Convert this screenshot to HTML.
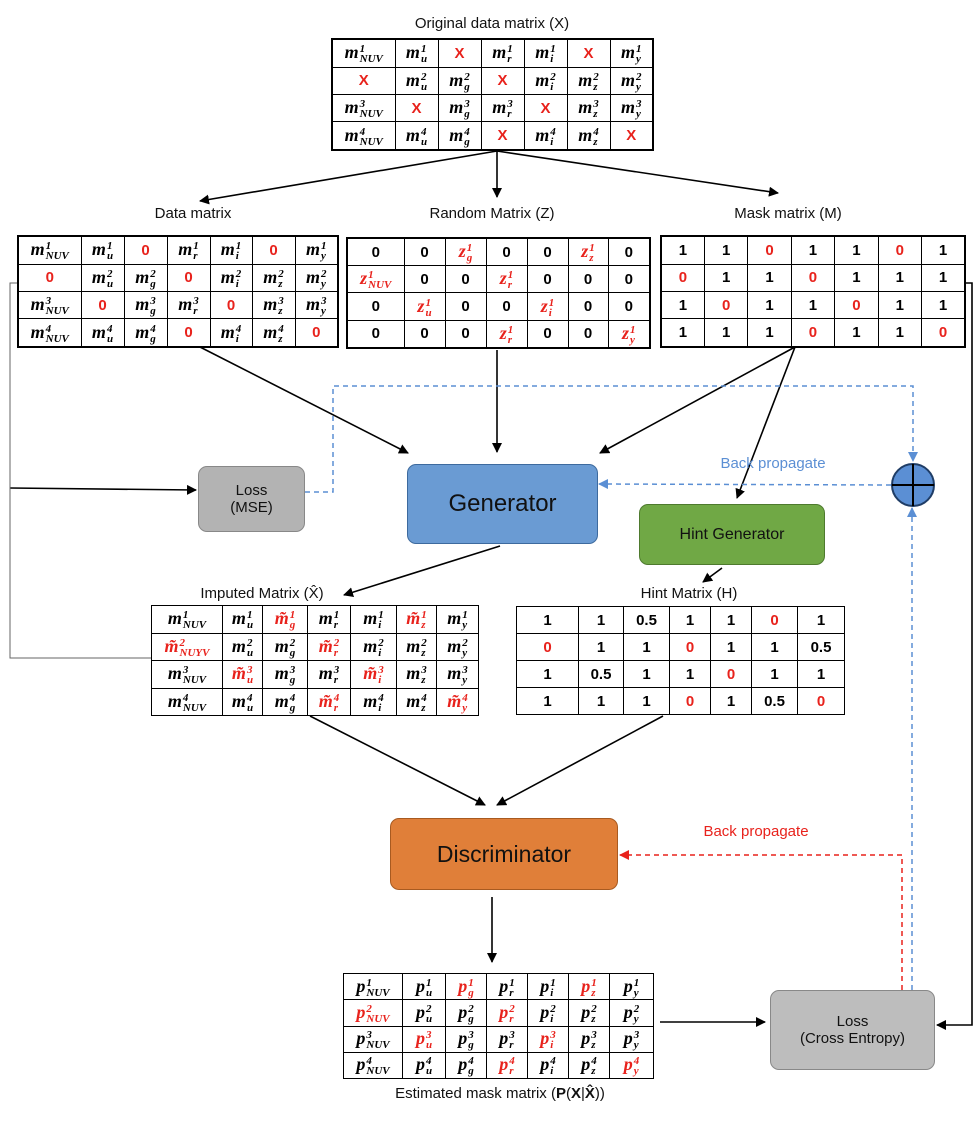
<!DOCTYPE html>
<html><head><meta charset="utf-8"><style>
body{margin:0;background:#fff;width:977px;height:1127px;position:relative;overflow:hidden;font-family:"Liberation Sans","DejaVu Sans",sans-serif}
table{position:absolute;border-collapse:collapse;table-layout:fixed;border:2px solid #000}
td{border:1.5px solid #000;text-align:center;padding:0;font:italic bold 18px "Liberation Serif",serif;white-space:nowrap;overflow:hidden}
td.n{font:bold 15px "Liberation Sans",sans-serif}
.r{color:#e8221c}
.s{display:inline-block;vertical-align:middle;line-height:10px;font-size:11px;text-align:left;margin-left:1px}
.s b{display:block}
.lbl{position:absolute;font-size:15px;color:#111;white-space:nowrap;transform:translateX(-50%)}
.box{position:absolute;border-radius:9px;display:flex;align-items:center;justify-content:center;text-align:center;color:#111;box-sizing:border-box}
</style></head><body>
<svg width="977" height="1127" style="position:absolute;left:0;top:0">
<defs>
<marker id="a" markerWidth="10" markerHeight="10" refX="9" refY="5" orient="auto" markerUnits="userSpaceOnUse"><path d="M0,0 L10,5 L0,10 z" fill="#000"/></marker>
<marker id="b" markerWidth="10" markerHeight="10" refX="9" refY="5" orient="auto" markerUnits="userSpaceOnUse"><path d="M0,0 L10,5 L0,10 z" fill="#5b8fd4"/></marker>
<marker id="c" markerWidth="10" markerHeight="10" refX="9" refY="5" orient="auto" markerUnits="userSpaceOnUse"><path d="M0,0 L10,5 L0,10 z" fill="#e8221c"/></marker>
</defs>
<g stroke="#000" stroke-width="1.6" fill="none">
<line x1="497" y1="151" x2="200" y2="201" marker-end="url(#a)"/>
<line x1="497" y1="151" x2="497" y2="197" marker-end="url(#a)"/>
<line x1="497" y1="151" x2="778" y2="193" marker-end="url(#a)"/>
<line x1="200" y1="347" x2="408" y2="453" marker-end="url(#a)"/>
<line x1="497" y1="350" x2="497" y2="452" marker-end="url(#a)"/>
<line x1="795" y1="347" x2="600" y2="453" marker-end="url(#a)"/>
<line x1="795" y1="347" x2="737" y2="498" marker-end="url(#a)"/>
<line x1="10" y1="488" x2="196" y2="490" marker-end="url(#a)"/>
<polyline points="965,283 972,283 972,1025 937,1025" marker-end="url(#a)"/>
<line x1="500" y1="546" x2="344" y2="595" marker-end="url(#a)"/>
<line x1="722" y1="568" x2="703" y2="582" marker-end="url(#a)"/>
<line x1="310" y1="716" x2="485" y2="805" marker-end="url(#a)"/>
<line x1="663" y1="716" x2="497" y2="805" marker-end="url(#a)"/>
<line x1="492" y1="897" x2="492" y2="962" marker-end="url(#a)"/>
<line x1="660" y1="1022" x2="765" y2="1022" marker-end="url(#a)"/>
</g>
<polyline points="17,283 10,283 10,658 151,658" stroke="#666" stroke-width="1" fill="none"/>
<g stroke="#5b8fd4" stroke-width="1.5" fill="none" stroke-dasharray="5,4">
<polyline points="305,492 333,492 333,386 913,386 913,461" marker-end="url(#b)"/>
<line x1="891" y1="485" x2="599" y2="484" marker-end="url(#b)"/>
<line x1="912" y1="990" x2="912" y2="508" marker-end="url(#b)"/>
</g>
<polyline points="902,990 902,855 620,855" stroke="#e8221c" stroke-width="1.5" fill="none" stroke-dasharray="5,4" marker-end="url(#c)"/>
<circle cx="913" cy="485" r="21" fill="#5b8fd4" stroke="#1f3d66" stroke-width="2"/>
<line x1="892" y1="485" x2="934" y2="485" stroke="#000" stroke-width="2"/>
<line x1="913" y1="464" x2="913" y2="506" stroke="#000" stroke-width="2"/>
</svg>

<div class="lbl" style="left:492px;top:15px">Original data matrix (X)</div>
<div class="lbl" style="left:193px;top:205px">Data matrix</div>
<div class="lbl" style="left:492px;top:205px">Random Matrix (Z)</div>
<div class="lbl" style="left:788px;top:205px">Mask matrix (M)</div>
<div class="lbl" style="left:262px;top:585px">Imputed Matrix (X&#770;)</div>
<div class="lbl" style="left:689px;top:585px">Hint Matrix (H)</div>
<div class="lbl" style="left:500px;top:1085px">Estimated mask matrix (<b>P</b>(<b>X</b>|<b>X&#770;</b>))</div>
<div class="lbl" style="left:773px;top:455px;color:#5b8fd4">Back propagate</div>
<div class="lbl" style="left:756px;top:823px;color:#e8221c">Back propagate</div>

<div class="box" style="left:198px;top:466px;width:107px;height:66px;background:#b3b3b3;border:1px solid #888;font-size:15px">Loss<br>(MSE)</div>
<div class="box" style="left:407px;top:464px;width:191px;height:80px;background:#6a9bd3;border:1.5px solid #3d6a9e;font-size:24px">Generator</div>
<div class="box" style="left:639px;top:504px;width:186px;height:61px;background:#70a845;border:1.5px solid #4e7a2e;font-size:16px">Hint Generator</div>
<div class="box" style="left:390px;top:818px;width:228px;height:72px;background:#e07f39;border:1.5px solid #a85a20;font-size:23px">Discriminator</div>
<div class="box" style="left:770px;top:990px;width:165px;height:80px;background:#bdbdbd;border:1px solid #888;font-size:15px">Loss<br>(Cross Entropy)</div>

<!-- Original -->
<table style="left:331px;top:38px;width:322px;height:113px">
<colgroup><col style="width:63px"><col style="width:43px"><col style="width:43px"><col style="width:43px"><col style="width:43px"><col style="width:43px"><col style="width:43px"></colgroup>
<tr><td>m<span class="s"><b>1</b><b>NUV</b></span></td><td>m<span class="s"><b>1</b><b>u</b></span></td><td class="n r">X</td><td>m<span class="s"><b>1</b><b>r</b></span></td><td>m<span class="s"><b>1</b><b>i</b></span></td><td class="n r">X</td><td>m<span class="s"><b>1</b><b>y</b></span></td></tr>
<tr><td class="n r">X</td><td>m<span class="s"><b>2</b><b>u</b></span></td><td>m<span class="s"><b>2</b><b>g</b></span></td><td class="n r">X</td><td>m<span class="s"><b>2</b><b>i</b></span></td><td>m<span class="s"><b>2</b><b>z</b></span></td><td>m<span class="s"><b>2</b><b>y</b></span></td></tr>
<tr><td>m<span class="s"><b>3</b><b>NUV</b></span></td><td class="n r">X</td><td>m<span class="s"><b>3</b><b>g</b></span></td><td>m<span class="s"><b>3</b><b>r</b></span></td><td class="n r">X</td><td>m<span class="s"><b>3</b><b>z</b></span></td><td>m<span class="s"><b>3</b><b>y</b></span></td></tr>
<tr><td>m<span class="s"><b>4</b><b>NUV</b></span></td><td>m<span class="s"><b>4</b><b>u</b></span></td><td>m<span class="s"><b>4</b><b>g</b></span></td><td class="n r">X</td><td>m<span class="s"><b>4</b><b>i</b></span></td><td>m<span class="s"><b>4</b><b>z</b></span></td><td class="n r">X</td></tr>
</table>

<!-- Data -->
<table style="left:17px;top:235px;width:321px;height:113px">
<colgroup><col style="width:63px"><col style="width:43px"><col style="width:43px"><col style="width:43px"><col style="width:42px"><col style="width:43px"><col style="width:43px"></colgroup>
<tr><td>m<span class="s"><b>1</b><b>NUV</b></span></td><td>m<span class="s"><b>1</b><b>u</b></span></td><td class="n r">0</td><td>m<span class="s"><b>1</b><b>r</b></span></td><td>m<span class="s"><b>1</b><b>i</b></span></td><td class="n r">0</td><td>m<span class="s"><b>1</b><b>y</b></span></td></tr>
<tr><td class="n r">0</td><td>m<span class="s"><b>2</b><b>u</b></span></td><td>m<span class="s"><b>2</b><b>g</b></span></td><td class="n r">0</td><td>m<span class="s"><b>2</b><b>i</b></span></td><td>m<span class="s"><b>2</b><b>z</b></span></td><td>m<span class="s"><b>2</b><b>y</b></span></td></tr>
<tr><td>m<span class="s"><b>3</b><b>NUV</b></span></td><td class="n r">0</td><td>m<span class="s"><b>3</b><b>g</b></span></td><td>m<span class="s"><b>3</b><b>r</b></span></td><td class="n r">0</td><td>m<span class="s"><b>3</b><b>z</b></span></td><td>m<span class="s"><b>3</b><b>y</b></span></td></tr>
<tr><td>m<span class="s"><b>4</b><b>NUV</b></span></td><td>m<span class="s"><b>4</b><b>u</b></span></td><td>m<span class="s"><b>4</b><b>g</b></span></td><td class="n r">0</td><td>m<span class="s"><b>4</b><b>i</b></span></td><td>m<span class="s"><b>4</b><b>z</b></span></td><td class="n r">0</td></tr>
</table>

<!-- Random -->
<table style="left:346px;top:237px;width:303px;height:112px">
<colgroup><col style="width:57px"><col style="width:41px"><col style="width:41px"><col style="width:41px"><col style="width:41px"><col style="width:40px"><col style="width:42px"></colgroup>
<tr><td class="n">0</td><td class="n">0</td><td class="r">z<span class="s"><b>1</b><b>g</b></span></td><td class="n">0</td><td class="n">0</td><td class="r">z<span class="s"><b>1</b><b>z</b></span></td><td class="n">0</td></tr>
<tr><td class="r">z<span class="s"><b>1</b><b>NUV</b></span></td><td class="n">0</td><td class="n">0</td><td class="r">z<span class="s"><b>1</b><b>r</b></span></td><td class="n">0</td><td class="n">0</td><td class="n">0</td></tr>
<tr><td class="n">0</td><td class="r">z<span class="s"><b>1</b><b>u</b></span></td><td class="n">0</td><td class="n">0</td><td class="r">z<span class="s"><b>1</b><b>i</b></span></td><td class="n">0</td><td class="n">0</td></tr>
<tr><td class="n">0</td><td class="n">0</td><td class="n">0</td><td class="r">z<span class="s"><b>1</b><b>r</b></span></td><td class="n">0</td><td class="n">0</td><td class="r">z<span class="s"><b>1</b><b>y</b></span></td></tr>
</table>

<!-- Mask -->
<table style="left:660px;top:235px;width:306px;height:113px">
<tr><td class="n">1</td><td class="n">1</td><td class="n r">0</td><td class="n">1</td><td class="n">1</td><td class="n r">0</td><td class="n">1</td></tr>
<tr><td class="n r">0</td><td class="n">1</td><td class="n">1</td><td class="n r">0</td><td class="n">1</td><td class="n">1</td><td class="n">1</td></tr>
<tr><td class="n">1</td><td class="n r">0</td><td class="n">1</td><td class="n">1</td><td class="n r">0</td><td class="n">1</td><td class="n">1</td></tr>
<tr><td class="n">1</td><td class="n">1</td><td class="n">1</td><td class="n r">0</td><td class="n">1</td><td class="n">1</td><td class="n r">0</td></tr>
</table>

<!-- Imputed -->
<table style="left:151px;top:605px;width:327px;height:111px;border-width:1px">
<colgroup><col style="width:71px"><col style="width:40px"><col style="width:45px"><col style="width:43px"><col style="width:46px"><col style="width:40px"><col style="width:42px"></colgroup>
<tr><td>m<span class="s"><b>1</b><b>NUV</b></span></td><td>m<span class="s"><b>1</b><b>u</b></span></td><td class="r">m&#771;<span class="s"><b>1</b><b>g</b></span></td><td>m<span class="s"><b>1</b><b>r</b></span></td><td>m<span class="s"><b>1</b><b>i</b></span></td><td class="r">m&#771;<span class="s"><b>1</b><b>z</b></span></td><td>m<span class="s"><b>1</b><b>y</b></span></td></tr>
<tr><td class="r">m&#771;<span class="s"><b>2</b><b>NUYV</b></span></td><td>m<span class="s"><b>2</b><b>u</b></span></td><td>m<span class="s"><b>2</b><b>g</b></span></td><td class="r">m&#771;<span class="s"><b>2</b><b>r</b></span></td><td>m<span class="s"><b>2</b><b>i</b></span></td><td>m<span class="s"><b>2</b><b>z</b></span></td><td>m<span class="s"><b>2</b><b>y</b></span></td></tr>
<tr><td>m<span class="s"><b>3</b><b>NUV</b></span></td><td class="r">m&#771;<span class="s"><b>3</b><b>u</b></span></td><td>m<span class="s"><b>3</b><b>g</b></span></td><td>m<span class="s"><b>3</b><b>r</b></span></td><td class="r">m&#771;<span class="s"><b>3</b><b>i</b></span></td><td>m<span class="s"><b>3</b><b>z</b></span></td><td>m<span class="s"><b>3</b><b>y</b></span></td></tr>
<tr><td>m<span class="s"><b>4</b><b>NUV</b></span></td><td>m<span class="s"><b>4</b><b>u</b></span></td><td>m<span class="s"><b>4</b><b>g</b></span></td><td class="r">m&#771;<span class="s"><b>4</b><b>r</b></span></td><td>m<span class="s"><b>4</b><b>i</b></span></td><td>m<span class="s"><b>4</b><b>z</b></span></td><td class="r">m&#771;<span class="s"><b>4</b><b>y</b></span></td></tr>
</table>

<!-- Hint -->
<table style="left:516px;top:606px;width:328px;height:109px;border-width:1px">
<colgroup><col style="width:62px"><col style="width:45px"><col style="width:46px"><col style="width:41px"><col style="width:41px"><col style="width:46px"><col style="width:47px"></colgroup>
<tr><td class="n">1</td><td class="n">1</td><td class="n">0.5</td><td class="n">1</td><td class="n">1</td><td class="n r">0</td><td class="n">1</td></tr>
<tr><td class="n r">0</td><td class="n">1</td><td class="n">1</td><td class="n r">0</td><td class="n">1</td><td class="n">1</td><td class="n">0.5</td></tr>
<tr><td class="n">1</td><td class="n">0.5</td><td class="n">1</td><td class="n">1</td><td class="n r">0</td><td class="n">1</td><td class="n">1</td></tr>
<tr><td class="n">1</td><td class="n">1</td><td class="n">1</td><td class="n r">0</td><td class="n">1</td><td class="n">0.5</td><td class="n r">0</td></tr>
</table>

<!-- Estimated -->
<table style="left:343px;top:973px;width:310px;height:106px;border-width:1px">
<colgroup><col style="width:59px"><col style="width:43px"><col style="width:41px"><col style="width:41px"><col style="width:41px"><col style="width:41px"><col style="width:44px"></colgroup>
<tr><td>p<span class="s"><b>1</b><b>NUV</b></span></td><td>p<span class="s"><b>1</b><b>u</b></span></td><td class="r">p<span class="s"><b>1</b><b>g</b></span></td><td>p<span class="s"><b>1</b><b>r</b></span></td><td>p<span class="s"><b>1</b><b>i</b></span></td><td class="r">p<span class="s"><b>1</b><b>z</b></span></td><td>p<span class="s"><b>1</b><b>y</b></span></td></tr>
<tr><td class="r">p<span class="s"><b>2</b><b>NUV</b></span></td><td>p<span class="s"><b>2</b><b>u</b></span></td><td>p<span class="s"><b>2</b><b>g</b></span></td><td class="r">p<span class="s"><b>2</b><b>r</b></span></td><td>p<span class="s"><b>2</b><b>i</b></span></td><td>p<span class="s"><b>2</b><b>z</b></span></td><td>p<span class="s"><b>2</b><b>y</b></span></td></tr>
<tr><td>p<span class="s"><b>3</b><b>NUV</b></span></td><td class="r">p<span class="s"><b>3</b><b>u</b></span></td><td>p<span class="s"><b>3</b><b>g</b></span></td><td>p<span class="s"><b>3</b><b>r</b></span></td><td class="r">p<span class="s"><b>3</b><b>i</b></span></td><td>p<span class="s"><b>3</b><b>z</b></span></td><td>p<span class="s"><b>3</b><b>y</b></span></td></tr>
<tr><td>p<span class="s"><b>4</b><b>NUV</b></span></td><td>p<span class="s"><b>4</b><b>u</b></span></td><td>p<span class="s"><b>4</b><b>g</b></span></td><td class="r">p<span class="s"><b>4</b><b>r</b></span></td><td>p<span class="s"><b>4</b><b>i</b></span></td><td>p<span class="s"><b>4</b><b>z</b></span></td><td class="r">p<span class="s"><b>4</b><b>y</b></span></td></tr>
</table>
</body></html>
